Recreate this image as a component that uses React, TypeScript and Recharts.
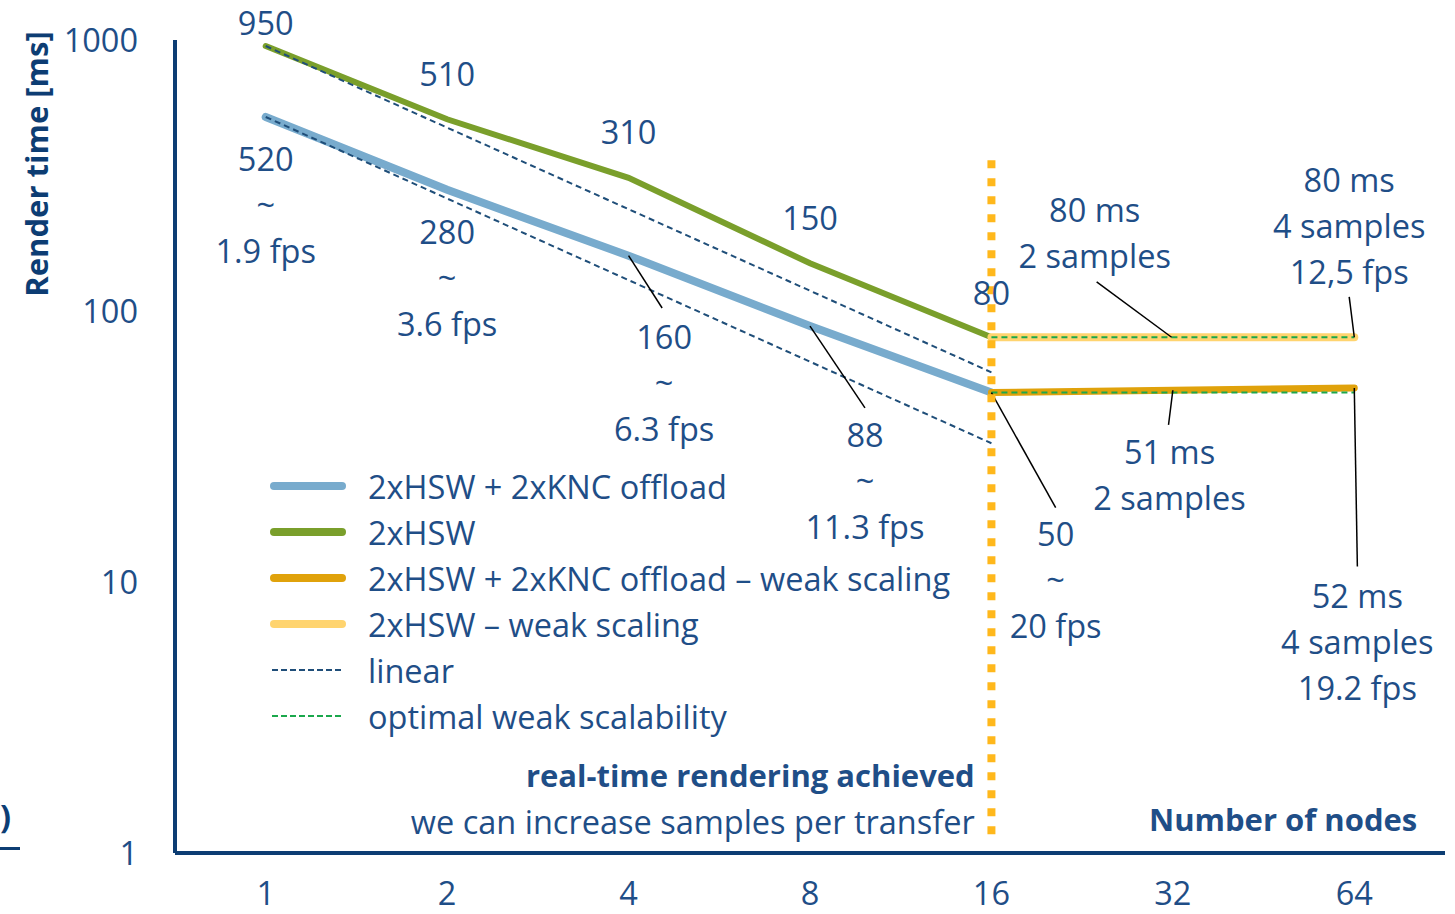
import React from 'react';
import {
  LineChart,
  Line,
  XAxis,
  YAxis,
  ReferenceLine,
  ReferenceDot,
  Legend,
} from 'recharts';

// x positions are the index of the node count (log2 spacing)
const nodes = [1, 2, 4, 8, 16, 32, 64];
const offload = [520, 280, 160, 88, 50, null, null];
const hsw = [950, 510, 310, 150, 80, null, null];
const offloadWeak = [null, null, null, null, 50, 51, 52];
const hswWeak = [null, null, null, null, 80, 80, 80];
const linearOffload = [520, 260, 130, 65, 32.5, null, null];
const linearHsw = [950, 475, 237.5, 118.8, 59.4, null, null];
const optimalOffload = [null, null, null, null, 50, 50, 50];
const optimalHsw = [null, null, null, null, 80, 80, 80];
const yTicks = [1, 10, 100, 1000];
const realtimeMarker = [360, 1.17];

const TEXT = '#1f4e87';
const AXIS = '#0d3d73';
const FONT = "'Open Sans', sans-serif";
const FS = 32.5;
const FS_BOLD = 31;
const LINE_H = 46;

const callouts = [
  { x: 0, y: 1146, lines: ['950'] },
  { x: 1, y: 743, lines: ['510'] },
  { x: 2, y: 454, lines: ['310'] },
  { x: 3, y: 220, lines: ['150'] },
  { x: 4, y: 116, lines: ['80'] },
  { x: 0, y: 361, lines: ['520', '~', '1.9 fps'] },
  { x: 1, y: 194, lines: ['280', '~', '3.6 fps'] },
  { x: 2.196, y: 79.5, lines: ['160', '~', '6.3 fps'] },
  { x: 3.303, y: 34.6, lines: ['88', '~', '11.3 fps'] },
  { x: 4.354, y: 14.9, lines: ['50', '~', '20 fps'] },
  { x: 4.569, y: 234, lines: ['80 ms', '2 samples'] },
  { x: 5.972, y: 304, lines: ['80 ms', '4 samples', '12,5 fps'] },
  { x: 4.982, y: 29.9, lines: ['51 ms', '2 samples'] },
  { x: 6.017, y: 8.81, lines: ['52 ms', '4 samples', '19.2 fps'] },
];

const notes = [
  { x: 3.908, y: 1.92, lines: ['real-time rendering achieved', 'we can increase samples per transfer'], boldFirst: true },
  { x: 6.347, y: 1.32, lines: ['Number of nodes'], boldFirst: true },
];

const leaders = [
  [[2, 160], [2.185, 102.6]],
  [[3, 88], [3.303, 43.9]],
  [[4, 50], [4.354, 18.8]],
  [[4.58, 128], [4.993, 80]],
  [[5.972, 112.7], [6, 80]],
  [[5, 51], [4.976, 38]],
  [[6, 52], [6.017, 11.4]],
];

const legendItems = [
  { name: '2xHSW + 2xKNC offload', color: '#78abcd', dashed: false },
  { name: '2xHSW', color: '#7a9f2b', dashed: false },
  { name: '2xHSW + 2xKNC offload – weak scaling', color: '#e0a20b', dashed: false },
  { name: '2xHSW – weak scaling', color: '#ffd46f', dashed: false },
  { name: 'linear', color: '#1f4e79', dashed: true },
  { name: 'optimal weak scalability', color: '#1ba84c', dashed: true },
];

const rows = nodes.map((n, i) => ({
  x: i,
  nodes: n,
  offload: offload[i],
  hsw: hsw[i],
  offloadWeak: offloadWeak[i],
  hswWeak: hswWeak[i],
  linearOffload: linearOffload[i],
  linearHsw: linearHsw[i],
  optimalOffload: optimalOffload[i],
  optimalHsw: optimalHsw[i],
}));

function textBlock(cx: number, cy: number, lines: string[], anchor: string, boldFirst = false) {
  return (
    <text
      x={cx}
      y={cy}
      textAnchor={anchor}
      fill={TEXT}
      fontFamily={FONT}
      fontSize={FS}
    >
      {lines.map((l, i) => {
        const bold = boldFirst && i === 0;
        return (
          <tspan
            key={i}
            x={cx}
            y={cy + i * LINE_H}
            dy="0.35em"
            fontWeight={bold ? 700 : 400}
            fontSize={bold ? FS_BOLD : FS}
          >
            {l}
          </tspan>
        );
      })}
    </text>
  );
}

function ChartLegend() {
  return (
    <div style={{ fontFamily: FONT, fontSize: FS, color: TEXT }}>
      {legendItems.map((it) => (
        <div key={it.name} style={{ display: 'flex', alignItems: 'center', height: LINE_H, whiteSpace: 'nowrap' }}>
          <svg width={102} height={20}>
            {it.dashed ? (
              <line x1={6} y1={10} x2={78} y2={10} stroke={it.color} strokeWidth={2} strokeDasharray="6 3" />
            ) : (
              <line x1={8} y1={10} x2={76} y2={10} stroke={it.color} strokeWidth={8} strokeLinecap="round" />
            )}
          </svg>
          <span>{it.name}</span>
        </div>
      ))}
    </div>
  );
}

export default function App() {
  return (
    <div style={{ position: 'absolute', left: 0, top: 0, width: 1455, height: 914 }}>
      <LineChart
        width={1455}
        height={914}
        data={rows}
        margin={{ top: 40, right: 10, bottom: 0, left: 0 }}
      >
        <XAxis
          type="number"
          dataKey="x"
          domain={[-0.5, 6.5]}
          ticks={[0, 1, 2, 3, 4, 5, 6]}
          tickFormatter={(v) => String(nodes[v])}
          height={61}
          tickLine={false}
          tickSize={0}
          tickMargin={29}
          axisLine={{ stroke: AXIS, strokeWidth: 4 }}
          tick={{ fill: TEXT, fontSize: FS, fontFamily: FONT }}
        />
        <YAxis
          scale="log"
          domain={[1, 1000]}
          ticks={yTicks}
          allowDataOverflow
          width={175}
          tickLine={false}
          tickSize={0}
          tickMargin={37}
          axisLine={{ stroke: AXIS, strokeWidth: 4 }}
          tick={{ fill: TEXT, fontSize: FS, fontFamily: FONT }}
          label={{
            content: (p: any) => (
              <text
                transform={`translate(${p.viewBox.x + 37},${p.viewBox.y + 124}) rotate(-90)`}
                textAnchor="middle"
                dy="0.35em"
                fill={AXIS}
                fontFamily={FONT}
                fontSize={31}
                fontWeight={700}
              >
                Render time [ms]
              </text>
            ),
          }}
        />
        <Legend
          layout="vertical"
          align="center"
          verticalAlign="middle"
          wrapperStyle={{ left: 266, top: 463, width: 720, height: 280 }}
          content={() => <ChartLegend />}
        />

        <Line dataKey="offload" stroke="#78abcd" strokeWidth={8} strokeLinecap="round" dot={false} activeDot={false} isAnimationActive={false} />
        <Line dataKey="hsw" stroke="#7a9f2b" strokeWidth={6} strokeLinecap="round" dot={false} activeDot={false} isAnimationActive={false} />
        <Line dataKey="hswWeak" stroke="#ffd46f" strokeWidth={8} strokeLinecap="round" dot={false} activeDot={false} isAnimationActive={false} />
        <Line dataKey="offloadWeak" stroke="#e0a20b" strokeWidth={7} strokeLinecap="round" dot={false} activeDot={false} isAnimationActive={false} />
        <Line dataKey="linearOffload" stroke="#1f4e79" strokeWidth={2} strokeDasharray="6 4" dot={false} activeDot={false} isAnimationActive={false} />
        <Line dataKey="linearHsw" stroke="#1f4e79" strokeWidth={2} strokeDasharray="6 4" dot={false} activeDot={false} isAnimationActive={false} />
        <Line dataKey="optimalOffload" stroke="#1ba84c" strokeWidth={2} strokeDasharray="6 4" dot={false} activeDot={false} isAnimationActive={false} />
        <Line dataKey="optimalHsw" stroke="#1ba84c" strokeWidth={2} strokeDasharray="6 4" dot={false} activeDot={false} isAnimationActive={false} />

        {leaders.map((seg, i) => (
          <ReferenceLine
            key={`l${i}`}
            segment={[{ x: seg[0][0], y: seg[0][1] }, { x: seg[1][0], y: seg[1][1] }]}
            stroke="#000"
            strokeWidth={1.5}
            ifOverflow="visible"
          />
        ))}

        {callouts.map((c, i) => (
          <ReferenceDot
            key={`c${i}`}
            x={c.x}
            y={c.y}
            r={0}
            ifOverflow="visible"
            shape={(p: any) => textBlock(p.cx, p.cy, c.lines, 'middle')}
          />
        ))}
        {notes.map((c, i) => (
          <ReferenceDot
            key={`n${i}`}
            x={c.x}
            y={c.y}
            r={0}
            ifOverflow="visible"
            shape={(p: any) => textBlock(p.cx, p.cy, c.lines, 'end', c.boldFirst)}
          />
        ))}

        <ReferenceLine
          segment={[{ x: 4, y: realtimeMarker[0] }, { x: 4, y: realtimeMarker[1] }]}
          stroke="#ffb81c"
          strokeWidth={8}
          strokeDasharray="8 10"
          ifOverflow="visible"
        />
      </LineChart>
      <div style={{ position: 'absolute', left: 0, top: 796, fontFamily: FONT, fontSize: FS, fontWeight: 700, color: AXIS, lineHeight: '40px' }}>)</div>
      <div style={{ position: 'absolute', left: 0, top: 847, width: 20, height: 3, background: AXIS }} />
    </div>
  );
}
